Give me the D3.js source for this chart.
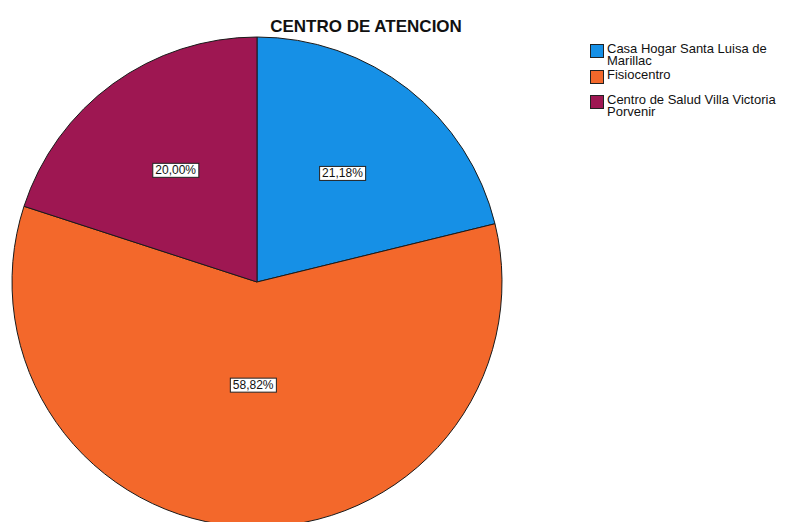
<!DOCTYPE html>
<html>
<head>
<meta charset="utf-8">
<script src="https://cdn.jsdelivr.net/npm/d3@7"></script>
<style>
  html, body { margin: 0; padding: 0; background: #fff; }
  svg { display: block; font-family: Arial, "Liberation Sans", sans-serif; }
</style>
</head>
<body>
<svg id="chart" width="791" height="522"></svg>
<script>
// Centro de atención: share of cases per site (percent)
const title = "CENTRO DE ATENCION";
const categories = [
  "Casa Hogar Santa Luisa de Marillac",
  "Fisiocentro",
  "Centro de Salud Villa Victoria Porvenir"
];
const legendLines = [
  ["Casa Hogar Santa Luisa de", "Marillac"],
  ["Fisiocentro"],
  ["Centro de Salud Villa Victoria", "Porvenir"]
];
const values = [21.18, 58.82, 20.00];
const colors = ["#1690e6", "#f3682b", "#9e1752"];

const svg = d3.select("#chart");
const cx = 257, cy = 282, r = 245;

const pie = d3.pie().sort(null).value(d => d)
  .startAngle(0).endAngle(2 * Math.PI);
const arcs = pie(values);
const arc = d3.arc().innerRadius(0).outerRadius(r);

const g = svg.append("g").attr("transform", `translate(${cx},${cy})`);

g.selectAll("path.slice")
  .data(arcs)
  .join("path")
  .attr("class", "slice")
  .attr("d", arc)
  .attr("fill", (d, i) => colors[i])
  .attr("stroke", "#1a1a1a")
  .attr("stroke-width", 1)
  .attr("stroke-linejoin", "round");

// Value labels inside slices, in white boxes
const fmt = v => d3.format(".2f")(v).replace(".", ",") + "%";
const labelArc = d => {
  const k = d.value > 50 ? 0.42 : 0.565;
  return d3.arc().innerRadius(r * k).outerRadius(r * k).centroid(d);
};

const labels = g.selectAll("g.lbl")
  .data(arcs)
  .join("g")
  .attr("class", "lbl")
  .attr("transform", d => `translate(${labelArc(d)})`);

labels.append("text")
  .attr("text-anchor", "middle")
  .attr("dy", "0.36em")
  .attr("font-size", 12)
  .attr("fill", "#111")
  .text(d => fmt(d.value));

labels.each(function() {
  const grp = d3.select(this);
  const bb = grp.select("text").node().getBBox();
  grp.insert("rect", "text")
    .attr("x", bb.x - 2.5)
    .attr("y", bb.y)
    .attr("width", bb.width + 5)
    .attr("height", bb.height)
    .attr("fill", "#fff")
    .attr("stroke", "#222")
    .attr("stroke-width", 1);
});

// Title
svg.append("text")
  .attr("x", 366)
  .attr("y", 32)
  .attr("text-anchor", "middle")
  .attr("font-size", 17)
  .attr("font-weight", "bold")
  .attr("fill", "#111")
  .text(title);

// Legend
const legend = svg.append("g").attr("transform", "translate(590,44)");
const rowY = [0, 26, 51];
const items = legend.selectAll("g.item")
  .data(categories)
  .join("g")
  .attr("class", "item")
  .attr("transform", (d, i) => `translate(0,${rowY[i]})`);

items.append("rect")
  .attr("x", 0.5).attr("y", 0.5)
  .attr("width", 13).attr("height", 13)
  .attr("fill", (d, i) => colors[i])
  .attr("stroke", "#222")
  .attr("stroke-width", 1);

items.append("text")
  .attr("x", 17)
  .attr("y", 9)
  .attr("font-size", 13)
  .attr("fill", "#111")
  .selectAll("tspan")
  .data((d, i) => legendLines[i])
  .join("tspan")
  .attr("x", 17)
  .attr("dy", (d, j) => j === 0 ? 0 : 12)
  .text(d => d);
</script>
</body>
</html>
